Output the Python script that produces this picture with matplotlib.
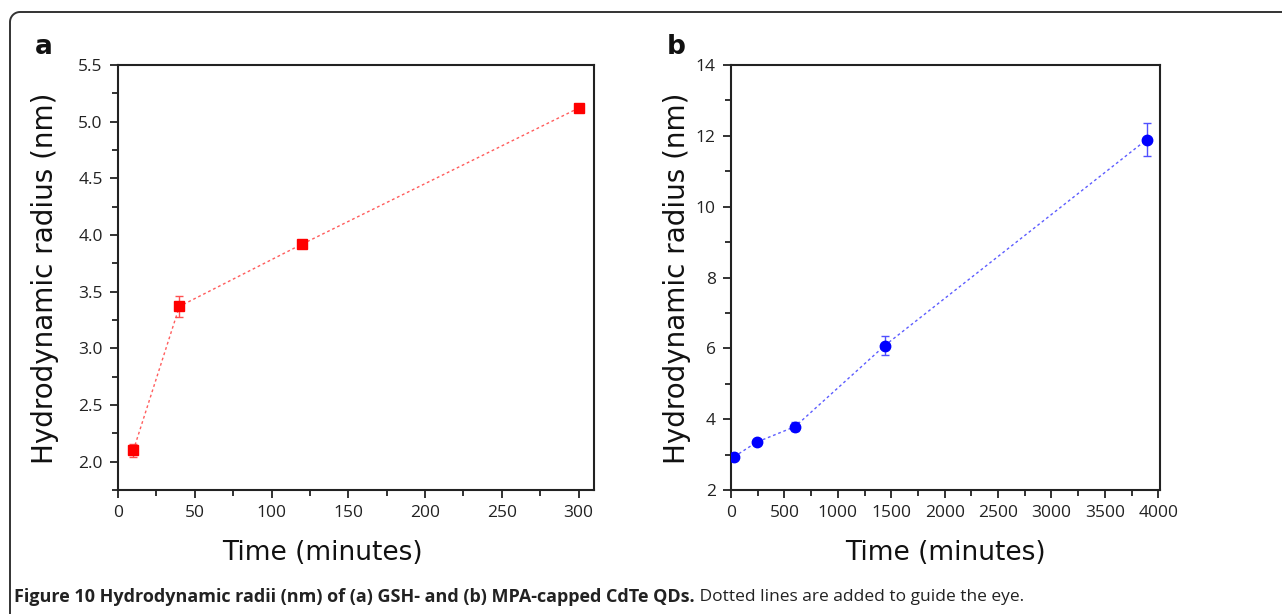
import numpy as np
import matplotlib
matplotlib.use("Agg")
import matplotlib.pyplot as plt
from matplotlib.lines import Line2D
from matplotlib.ticker import MultipleLocator

# Panel a: GSH-capped
time_a = [10, 40, 120, 300]
radius_a = [2.10, 3.37, 3.92, 5.12]
err_a = [0.06, 0.09, 0.03, 0.03]

# Panel b: MPA-capped
time_b = [30, 240, 600, 1440, 3890]
radius_b = [2.94, 3.35, 3.79, 6.08, 11.89]
err_b = [0.05, 0.07, 0.12, 0.27, 0.47]

xlabel = "Time (minutes)"
ylabel = "Hydrodynamic radius (nm)"
caption_bold = "Figure 10 Hydrodynamic radii (nm) of (a) GSH- and (b) MPA-capped CdTe QDs."
caption_norm = " Dotted lines are added to guide the eye."

W, H = 1282, 614
fig = plt.figure(figsize=(W / 100, H / 100), dpi=100)
fig.patch.set_facecolor("white")

def fx(px):
    return px / W

def fy(py):
    return 1 - py / H

ax_a = fig.add_axes([fx(118), fy(490), fx(594) - fx(118), fy(65) - fy(490)])
ax_b = fig.add_axes([fx(731), fy(490), fx(1160) - fx(731), fy(65) - fy(490)])

tickfont = "Open Sans"
labfont = "DejaVu Sans"

def style(ax):
    for s in ax.spines.values():
        s.set_linewidth(1.5)
        s.set_color("#222222")
    ax.tick_params(which="both", direction="out", top=False, right=False,
                   width=1.3, color="#222222")
    ax.tick_params(which="major", length=6, labelsize=12.5, pad=5)
    ax.tick_params(which="minor", length=4)
    for lab in ax.get_xticklabels() + ax.get_yticklabels():
        lab.set_fontfamily(tickfont)
        lab.set_color("#222222")

# Panel a
ax_a.errorbar(time_a, radius_a, yerr=err_a, fmt="none", ecolor="#ff5050",
              elinewidth=1.0, capsize=3, capthick=1.0, zorder=2)
ax_a.plot(time_a, radius_a, linestyle=(0, (2, 2)), color="#ff4040", lw=1.0,
          alpha=0.85, zorder=2)
ax_a.plot(time_a, radius_a, linestyle="none", marker="s", markersize=7,
          color="#ff0000", zorder=3)
ax_a.set_xlim(0, 310)
ax_a.set_ylim(1.75, 5.5)
ax_a.xaxis.set_major_locator(MultipleLocator(50))
ax_a.xaxis.set_minor_locator(MultipleLocator(25))
ax_a.yaxis.set_major_locator(MultipleLocator(0.5))
ax_a.yaxis.set_minor_locator(MultipleLocator(0.25))
ax_a.set_yticks([2.0, 2.5, 3.0, 3.5, 4.0, 4.5, 5.0, 5.5])
ax_a.set_yticklabels(["2.0", "2.5", "3.0", "3.5", "4.0", "4.5", "5.0", "5.5"])
style(ax_a)

# Panel b
ax_b.errorbar(time_b, radius_b, yerr=err_b, fmt="none", ecolor="#5050ff",
              elinewidth=1.0, capsize=3, capthick=1.0, zorder=2)
ax_b.plot(time_b, radius_b, linestyle=(0, (2, 2)), color="#4040ff", lw=1.0,
          alpha=0.85, zorder=2)
ax_b.plot(time_b, radius_b, linestyle="none", marker="o", markersize=7.5,
          color="#0000ff", zorder=3)
ax_b.set_xlim(0, 4016)
ax_b.set_ylim(2, 14)
ax_b.xaxis.set_major_locator(MultipleLocator(500))
ax_b.xaxis.set_minor_locator(MultipleLocator(250))
ax_b.yaxis.set_major_locator(MultipleLocator(2))
ax_b.yaxis.set_minor_locator(MultipleLocator(1))
style(ax_b)

# Axis labels placed in figure coordinates
fig.text(fx(322), fy(553), xlabel, ha="center", va="center",
         fontsize=19, family=labfont, color="#111111")
fig.text(fx(945), fy(553), xlabel, ha="center", va="center",
         fontsize=19, family=labfont, color="#111111")
fig.text(fx(45), fy(278), ylabel, ha="center", va="center", rotation=90,
         fontsize=20, family=labfont, color="#111111")
fig.text(fx(677), fy(278), ylabel, ha="center", va="center", rotation=90,
         fontsize=20, family=labfont, color="#111111")

# Panel letters
fig.text(fx(35), fy(47), "a", ha="left", va="center", fontsize=19,
         fontweight="bold", family="DejaVu Sans", color="#111111")
fig.text(fx(667), fy(47), "b", ha="left", va="center", fontsize=19,
         fontweight="bold", family="DejaVu Sans", color="#111111")

# Caption
t1 = fig.text(fx(14), fy(597), caption_bold, ha="left", va="center",
              fontsize=13, fontweight="bold", family="Open Sans", color="#222222")
fig.canvas.draw()
bb = t1.get_window_extent(renderer=fig.canvas.get_renderer())
fig.text(bb.x1 / W, fy(597), caption_norm, ha="left", va="center",
         fontsize=12.5, family="Open Sans", color="#222222")

# Frame: left and top lines with rounded top-left corner
r = 10
theta = np.linspace(np.pi, np.pi / 2, 12)
cx, cy = 10 + r, 12 + r
arc_x = cx + r * np.cos(theta)
arc_y = cy - r * np.sin(theta)
xs = np.concatenate([[10], arc_x, [W]])
ys = np.concatenate([[H], arc_y, [12]])
fig.add_artist(Line2D(xs / W, 1 - ys / H, transform=fig.transFigure,
                      color="#333333", lw=1.4))

fig.savefig("out.png", dpi=100, facecolor="white")
